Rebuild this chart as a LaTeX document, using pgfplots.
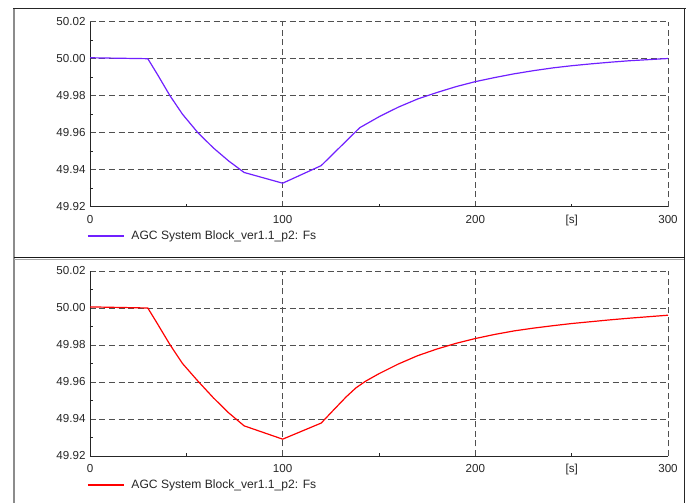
\documentclass[border=0pt]{standalone}
\usepackage{pgfplots}
\pgfplotsset{compat=1.18}
\usepackage{fontspec}
\setmainfont{Liberation Sans}
\definecolor{agcpurple}{RGB}{112,32,255}
\definecolor{agcred}{RGB}{255,0,0}
\definecolor{gridgray}{RGB}{80,80,80}
\pgfplotsset{
  myax/.style={
    scale only axis,
    width=578pt, height=185pt,
    xmin=0, xmax=300, ymin=49.92, ymax=50.02,
    axis lines*=left,
    axis line style={-, black!85, line width=0.7pt},
    tick align=inside,
    xtick={0,100,200,300},
    minor xtick={50,150},
    extra x ticks={250},
    extra x tick labels={[s]},
    extra x tick style={grid=none, major tick length=3pt},
    ytick={49.92,49.94,49.96,49.98,50.00,50.02},
    minor ytick={49.93,49.95,49.97,49.99,50.01},
    yticklabels={49.92,49.94,49.96,49.98,50.00,50.02},
    major tick length=0pt,
    minor tick length=3pt,
    every tick/.style={black!85, line width=0.6pt},
    xmajorgrids, ymajorgrids,
    major grid style={gridgray, dash pattern=on 6pt off 3.5pt, line width=0.75pt},
    tick label style={font=\fontsize{11.6}{13}\selectfont, text=black!85},
    /pgf/number format/assume math mode=true,
    xticklabel style={yshift=-5pt},
    yticklabel style={xshift=-1pt},
    clip=false,
    legend style={at={(axis description cs:0,0)}, anchor=west, xshift=-6pt, yshift=-29pt,
      draw=none, fill=none, font=\fontsize{12.1}{14}\selectfont, text=black!85},
    legend image code/.code={\draw[#1, line width=1.4pt] (0pt,0pt) -- (36pt,0pt); \path (41pt,0pt);},
    legend cell align=left,
  }
}
\begin{document}
\begin{tikzpicture}
\path[use as bounding box] (0,0) rectangle (686pt,503pt);
% frame
\draw[black!45, line width=1.4pt] (14pt,0pt) -- (14pt,494.5pt);
\draw[black!85, line width=1.6pt] (13.3pt,494.5pt) -- (685.5pt,494.5pt);
\draw[black!85, line width=1.6pt] (684.6pt,0pt) -- (684.6pt,495.3pt);
\draw[black!90, line width=1.3pt] (14pt,245.5pt) -- (684.6pt,245.5pt);
\draw[black!35, line width=0.8pt] (14pt,243.4pt) -- (684pt,243.4pt);

\begin{axis}[myax, at={(90pt,296.3pt)}, anchor=south west, legend style={yshift=-0.5pt}]
\addplot[color=agcpurple, line width=1.2pt] coordinates {
(0,50.0005) (30,50.0000) (35,49.9915) (41.5,49.9800) (48,49.9700) (56,49.9600)
(64,49.9518) (72,49.9447) (80,49.9385) (100,49.9327) (120,49.9422) (140,49.9627)
(150,49.9686) (160,49.9738) (170,49.9782) (180,49.9817) (190,49.9849) (200,49.9876)
(210,49.9898) (220,49.9918) (230,49.9935) (240,49.9950) (250,49.9962) (260,49.9972)
(270,49.9981) (280,49.9989) (290,49.9995) (300,50.0001)};
\addlegendentry{AGC System Block\_ver1.1\_p2: Fs}
\end{axis}

\begin{axis}[myax, at={(90pt,47pt)}, anchor=south west]
\addplot[color=agcred, line width=1.2pt] coordinates {
(0,50.0006) (30,50.0000) (35,49.9915) (41.5,49.9802) (48,49.9700) (56,49.9605)
(64,49.9515) (72,49.9433) (80,49.9363) (100,49.9291) (120,49.9378) (127,49.9455)
(133,49.9520) (138,49.9568) (143,49.9604) (150,49.9645) (160,49.9697) (170,49.9742)
(180,49.9778) (190,49.9809) (200,49.9835) (210,49.9857) (220,49.9876) (230,49.9891)
(240,49.9904) (250,49.9916) (260,49.9926) (270,49.9936) (280,49.9945) (290,49.9953)
(300,49.9961)};
\addlegendentry{AGC System Block\_ver1.1\_p2: Fs}
\end{axis}
\end{tikzpicture}
\end{document}
